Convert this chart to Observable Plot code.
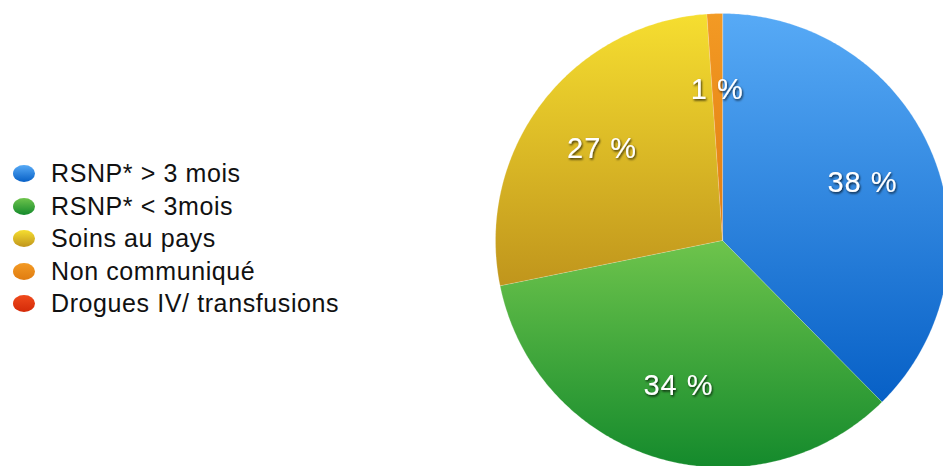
<!DOCTYPE html>
<html>
<head>
<meta charset="utf-8">
<script src="https://cdn.jsdelivr.net/npm/d3@7"></script>
<script src="https://cdn.jsdelivr.net/npm/@observablehq/plot@0.6"></script>
<style>
  html, body { margin: 0; padding: 0; background: #fff; }
  #wrap { position: relative; width: 943px; height: 466px; overflow: hidden; }
  #legend { position: absolute; left: 13px; top: 157.5px; font-family: "Liberation Sans", Arial, sans-serif; font-size: 25px; letter-spacing: 0.6px; color: #111; }
  .row { display: flex; align-items: center; height: 32.5px; }
  .sw { width: 22px; height: 17px; border-radius: 50%; margin-right: 16px; flex: none; }
</style>
</head>
<body>
<div id="wrap"><div id="chart"></div><div id="legend"></div></div>
<script>
const categories = ["RSNP* > 3 mois", "RSNP* < 3mois", "Soins au pays", "Non communiqué", "Drogues IV/ transfusions"];
const values = [37.6, 34.2, 27.1, 1.1, 0];
const labels = ["38 %", "34 %", "27 %", "1 %", ""];
const topColors = ["#57aaf6", "#6ec44c", "#f6de30", "#f39a24", "#ef4a1c"];
const bottomColors = ["#0760c6", "#148a2c", "#c0951c", "#e07c10", "#d42a08"];

const W = 943, H = 466, cx = 722, cy = 240, R = 227;

const pie = d3.pie().sort(null).value(d => d.value)(categories.map((c, i) => ({cat: c, value: values[i], i})));

const polys = [];
const labelRows = [];
pie.forEach(s => {
  if (s.endAngle - s.startAngle <= 0) return;
  const n = Math.max(2, Math.ceil((s.endAngle - s.startAngle) / 0.01));
  polys.push({i: s.data.i, x: 0, y: 0});
  for (let k = 0; k <= n; k++) {
    const a = s.startAngle + (s.endAngle - s.startAngle) * k / n;
    polys.push({i: s.data.i, x: Math.sin(a), y: Math.cos(a)});
  }
  const m = (s.startAngle + s.endAngle) / 2;
  labelRows.push({x: Math.sin(m) * 2 / 3, y: Math.cos(m) * 2 / 3, label: labels[s.data.i]});
});

const defs = () => {
  const ns = "http://www.w3.org/2000/svg";
  const d = document.createElementNS(ns, "defs");
  categories.forEach((c, i) => {
    const g = document.createElementNS(ns, "linearGradient");
    g.setAttribute("id", "grad" + i);
    g.setAttribute("x1", "0"); g.setAttribute("y1", "0");
    g.setAttribute("x2", "0"); g.setAttribute("y2", "1");
    [[0, topColors[i]], [1, bottomColors[i]]].forEach(([o, col]) => {
      const st = document.createElementNS(ns, "stop");
      st.setAttribute("offset", o);
      st.setAttribute("stop-color", col);
      g.appendChild(st);
    });
    d.appendChild(g);
  });
  const f = document.createElementNS(ns, "filter");
  f.setAttribute("id", "shadow");
  f.setAttribute("x", "-20%"); f.setAttribute("y", "-20%");
  f.setAttribute("width", "140%"); f.setAttribute("height", "140%");
  const fe = document.createElementNS(ns, "feDropShadow");
  fe.setAttribute("dx", "1"); fe.setAttribute("dy", "1.5");
  fe.setAttribute("stdDeviation", "1");
  fe.setAttribute("flood-color", "#000"); fe.setAttribute("flood-opacity", "0.75");
  f.appendChild(fe);
  d.appendChild(f);
  return d;
};

const chart = Plot.plot({
  width: W, height: H,
  margin: 0,
  x: {domain: [-cx / R, (W - cx) / R], range: [0, W], axis: null},
  y: {domain: [-(H - cy) / R, cy / R], range: [H, 0], axis: null},
  color: {type: "identity"},
  marks: [
    defs,
    Plot.line(polys, {x: "x", y: "y", z: "i", fill: d => `url(#grad${d.i})`, stroke: "rgba(255,255,255,0.35)", strokeWidth: 0.6, curve: "linear-closed"}),
    Plot.text(labelRows, {x: "x", y: "y", text: "label", fill: "white", fontSize: 29, fontFamily: "Liberation Sans, Arial, sans-serif"})
  ]
});
chart.querySelectorAll("g[aria-label=text] text").forEach(t => { t.setAttribute("filter", "url(#shadow)"); t.setAttribute("letter-spacing", "1"); });
document.getElementById("chart").appendChild(chart);

const leg = document.getElementById("legend");
categories.forEach((c, i) => {
  const row = document.createElement("div");
  row.className = "row";
  const sw = document.createElement("div");
  sw.className = "sw";
  sw.style.background = `linear-gradient(${topColors[i]}, ${bottomColors[i]})`;
  const t = document.createElement("span");
  t.textContent = c;
  row.appendChild(sw); row.appendChild(t);
  leg.appendChild(row);
});
</script>
</body>
</html>
